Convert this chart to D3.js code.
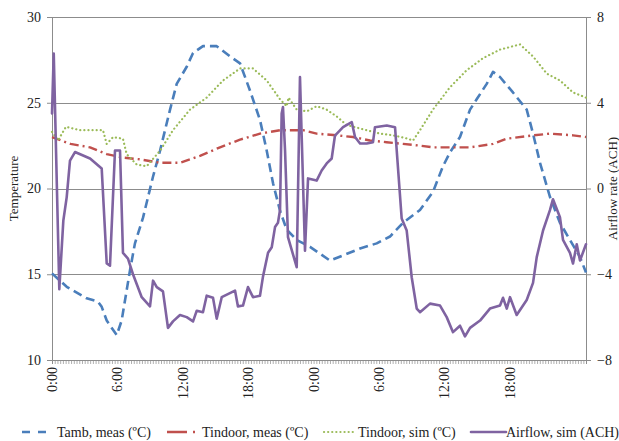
<!DOCTYPE html>
<html>
<head>
<meta charset="utf-8">
<script src="https://cdn.jsdelivr.net/npm/d3@7"></script>
<style>
  html, body { margin: 0; padding: 0; background: #fff; overflow: hidden; }
  svg { display: block; }
  text { font-family: "Liberation Serif", "Times New Roman", serif; fill: #222; }
</style>
</head>
<body>
<svg id="chart" width="619" height="441"></svg>
<script>
// Hours since the first midnight, with the value at each hour
const tambHours = [0, 1.35, 3.18, 4.22, 4.56, 5.02, 5.94, 6.39, 7.16, 7.61, 8.35, 9.27, 9.91, 10.83, 11.44, 12.36, 12.94, 13.85, 15.11, 16.33, 17.25, 18.17, 19.08, 19.7, 20.28, 20.92, 21.53, 22.45, 23.67, 25.5, 26.7, 28.26, 29.79, 31.01, 32.2, 33.76, 34.95, 35.87, 36.51, 37.43, 38.35, 38.96, 39.88, 40.46, 41.1, 42.29, 43.55, 44.13, 44.77, 45.69, 46.6, 47.52, 48.44, 48.99];
const tambValues = [15.05, 14.27, 13.6, 13.4, 13.1, 12.3, 11.45, 12.3, 15.25, 16.8, 18.3, 20.7, 22.2, 24.6, 26.1, 27.1, 27.9, 28.3, 28.3, 27.7, 27.3, 25.7, 24.0, 22.2, 20.3, 18.7, 17.6, 17.0, 16.6, 15.8, 16.1, 16.5, 16.8, 17.2, 18.0, 18.75, 19.8, 21.3, 22.1, 23.0, 24.6, 25.2, 26.1, 26.8, 26.5, 25.6, 24.6, 23.2, 21.5, 19.5, 18.0, 17.0, 16.0, 15.1];

const tinMeasHours = [0, 1.7, 3.49, 5.02, 6.51, 8.07, 9.91, 11.74, 13.58, 15.41, 17.25, 19.08, 20.92, 23.03, 24.28, 26.12, 27.61, 29.17, 30.7, 32.2, 33.76, 34.95, 36.51, 38.35, 40.46, 41.7, 44.13, 45.69, 47.8, 48.99];
const tinMeasValues = [23.0, 22.6, 22.4, 22.0, 21.8, 21.7, 21.5, 21.5, 21.9, 22.4, 22.85, 23.2, 23.4, 23.4, 23.2, 23.1, 23.0, 22.8, 22.7, 22.6, 22.5, 22.4, 22.4, 22.4, 22.6, 22.9, 23.1, 23.2, 23.1, 23.0];

const tinSimHours = [0, 0.55, 1.28, 2.57, 4.68, 5.02, 5.6, 6.51, 6.85, 7.77, 8.69, 9.91, 11.1, 12.66, 14.19, 15.69, 17.25, 18.44, 19.7, 20.92, 21.53, 21.7, 22.45, 23.37, 24.28, 25.2, 26.12, 27.04, 28.26, 30.09, 31.28, 32.39, 33.12, 33.76, 34.95, 36.51, 38.05, 39.54, 41.1, 42.94, 44.13, 45.39, 46.6, 47.8, 48.99];
const tinSimValues = [23.3, 22.8, 23.6, 23.4, 23.4, 22.6, 23.0, 22.9, 22.0, 21.4, 21.3, 22.2, 23.4, 24.6, 25.3, 26.3, 27.0, 27.0, 26.3, 25.2, 24.8, 25.3, 24.6, 24.5, 24.8, 24.6, 24.2, 23.7, 23.5, 23.2, 23.1, 22.95, 22.8, 23.4, 24.6, 25.9, 26.9, 27.6, 28.1, 28.4, 27.7, 26.7, 26.3, 25.6, 25.3];

const airHours = [0, 0.16, 0.67, 1.04, 1.35, 1.65, 2.11, 3.49, 4.56, 5.02, 5.32, 5.78, 6.24, 6.51, 6.97, 7.43, 8.23, 8.99, 9.27, 9.61, 10.18, 10.64, 11.1, 11.74, 12.36, 12.94, 13.28, 13.85, 14.19, 14.77, 15.11, 15.57, 16.79, 17.06, 17.52, 17.98, 18.44, 19.08, 19.36, 19.82, 20.16, 20.46, 20.73, 20.92, 21.07, 21.19, 21.38, 21.65, 22.45, 22.75, 23.21, 23.49, 24.28, 24.74, 25.2, 25.66, 25.96, 26.7, 27.5, 27.8, 28.26, 28.87, 29.45, 29.63, 30.71, 31.47, 32.08, 32.54, 33.0, 33.46, 33.76, 34.68, 35.6, 36.21, 36.79, 37.43, 37.89, 38.35, 39.27, 40.18, 41.1, 41.38, 41.72, 42.02, 42.63, 43.55, 44.13, 44.47, 45.05, 45.69, 45.96, 46.6, 46.88, 47.52, 47.8, 48.14, 48.44, 48.99];
const airValues = [3.5, 6.3, -4.7, -1.5, -0.4, 1.3, 1.7, 1.4, 0.93, -3.5, -3.6, 1.77, 1.77, -3.0, -3.27, -4.0, -5.07, -5.5, -4.3, -4.6, -4.8, -6.5, -6.2, -5.9, -6.0, -6.2, -5.7, -5.77, -5.0, -5.1, -6.07, -5.07, -4.76, -5.5, -5.46, -4.6, -5.07, -5.0, -4.1, -3.0, -2.74, -1.8, -1.6, -1.0, 3.5, 3.8, 1.77, -2.27, -3.67, 5.2, -2.9, 0.47, 0.37, 0.84, 1.17, 1.4, 2.47, 2.86, 3.1, 2.4, 2.1, 2.1, 2.16, 2.86, 2.94, 2.86, -1.4, -1.96, -4.14, -5.6, -5.77, -5.37, -5.46, -6.0, -6.7, -6.4, -6.9, -6.5, -6.16, -5.6, -5.46, -5.1, -5.6, -5.07, -5.9, -5.2, -4.4, -3.2, -1.96, -1.0, -0.5, -1.34, -2.4, -3.0, -3.5, -2.6, -3.36, -2.6];

// Axis ticks
const timeTickHours = [0, 6, 12, 18, 24, 30, 36, 42];
const timeTickLabels = ["0:00", "6:00", "12:00", "18:00", "0:00", "6:00", "12:00", "18:00"];
const tempTicks = [10, 15, 20, 25, 30];
const airTicks = [-8, -4, 0, 4, 8];

const seriesNames = ["Tamb, meas (ºC)", "Tindoor, meas (ºC)", "Tindoor, sim (ºC)", "Airflow, sim (ACH)"];

const svg = d3.select("#chart");
const plotLeft = 52, plotRight = 586, plotTop = 17, plotBottom = 360;
const gridColor = "#8c8c8c";

const x = d3.scaleLinear().domain([0, 48.99]).range([plotLeft, plotRight]);
const yT = d3.scaleLinear().domain([10, 30]).range([plotBottom, plotTop]);
const yA = d3.scaleLinear().domain([-8, 8]).range([plotBottom, plotTop]);

// Horizontal gridlines
svg.append("g").selectAll("line")
  .data(tempTicks.filter(v => v > 10))
  .join("line")
  .attr("x1", plotLeft).attr("x2", plotRight)
  .attr("y1", d => Math.round(yT(d)) + 0.5).attr("y2", d => Math.round(yT(d)) + 0.5)
  .attr("stroke", gridColor).attr("stroke-width", 1);

// Left (temperature) axis
const axL = svg.append("g").attr("transform", `translate(${plotLeft},0)`)
  .call(d3.axisLeft(yT).tickValues(tempTicks).tickSize(5).tickPadding(6));
// Right (airflow) axis
const axR = svg.append("g").attr("transform", `translate(${plotRight},0)`)
  .call(d3.axisRight(yA).tickValues(airTicks).tickSize(5).tickPadding(6));
// Bottom (time) axis with a tick every quarter hour
const minorTicks = d3.range(0, 48.99, 0.25);
const axB = svg.append("g").attr("transform", `translate(0,${plotBottom})`)
  .call(d3.axisBottom(x).tickValues(minorTicks).tickSize(4).tickFormat(""));

[axL, axR, axB].forEach(g => {
  g.select(".domain").attr("stroke", gridColor);
  g.selectAll(".tick line").attr("stroke", gridColor);
  g.selectAll(".tick text")
    .attr("font-family", "Liberation Serif, serif")
    .attr("font-size", 14).attr("fill", "#222");
});
axB.selectAll(".tick line").attr("stroke-width", 0.7);

// Rotated time labels
svg.append("g").selectAll("text")
  .data(timeTickHours)
  .join("text")
  .attr("transform", d => `translate(${x(d) + 5},${plotBottom + 7}) rotate(-90)`)
  .attr("text-anchor", "end")
  .attr("font-size", 14)
  .text((d, i) => timeTickLabels[i]);

// Axis titles
svg.append("text")
  .attr("transform", `translate(18,${(plotTop + plotBottom) / 2}) rotate(-90)`)
  .attr("text-anchor", "middle").attr("font-size", 13)
  .text("Temperature");
svg.append("text")
  .attr("transform", `translate(617,${(plotTop + plotBottom) / 2}) rotate(-90)`)
  .attr("text-anchor", "middle").attr("font-size", 13)
  .text("Airflow rate (ACH)");

// Series
const styles = [
  { color: "#4a7ebb", dash: "9,5", width: 2.6, cap: "butt" },
  { color: "#c0504d", dash: "9,4,2,4", width: 2.4, cap: "butt" },
  { color: "#9bbb59", dash: "0.1,4", width: 2.2, cap: "round" },
  { color: "#7f63a1", dash: null, width: 2.6, cap: "round" }
];

const lineT = d3.line().x(d => x(d[0])).y(d => yT(d[1]));
const lineA = d3.line().x(d => x(d[0])).y(d => yA(d[1]));

const series = [
  { pts: d3.zip(tambHours, tambValues), line: lineT },
  { pts: d3.zip(tinMeasHours, tinMeasValues), line: lineT },
  { pts: d3.zip(tinSimHours, tinSimValues), line: lineT },
  { pts: d3.zip(airHours, airValues), line: lineA }
];

series.forEach((s, i) => {
  const st = styles[i];
  svg.append("path")
    .attr("d", s.line(s.pts))
    .attr("fill", "none")
    .attr("stroke", st.color)
    .attr("stroke-width", st.width)
    .attr("stroke-dasharray", st.dash)
    .attr("stroke-linecap", st.cap)
    .attr("stroke-linejoin", "round");
});

// Legend
const legendItems = [
  { x1: 22, x2: 52, tx: 57 },
  { x1: 167, x2: 198, tx: 202 },
  { x1: 324, x2: 353, tx: 358 },
  { x1: 471, x2: 506, tx: 506 }
];
const ly = 432;
legendItems.forEach((it, i) => {
  const st = styles[i];
  svg.append("line")
    .attr("x1", it.x1).attr("x2", it.x2).attr("y1", ly).attr("y2", ly)
    .attr("stroke", st.color).attr("stroke-width", st.width)
    .attr("stroke-dasharray", i === 0 ? "8,8" : i === 1 ? "20,6,2,8" : st.dash)
    .attr("stroke-linecap", st.cap);
  svg.append("text")
    .attr("x", it.tx).attr("y", ly + 5)
    .attr("font-size", 14)
    .text(seriesNames[i]);
});
</script>
</body>
</html>
